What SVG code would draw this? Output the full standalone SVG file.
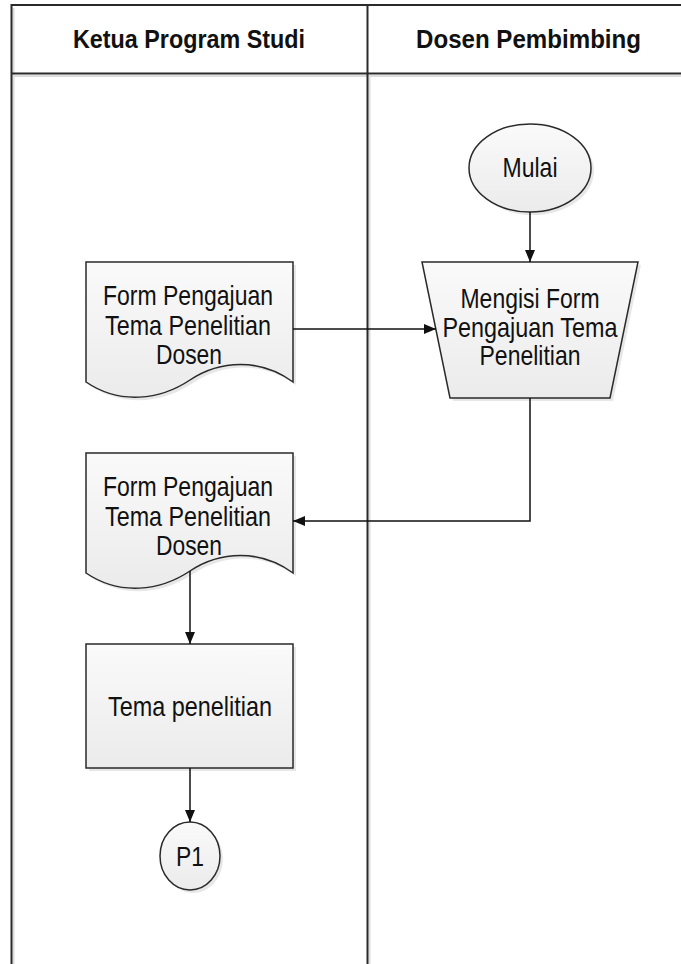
<svg xmlns="http://www.w3.org/2000/svg" width="681" height="964" viewBox="0 0 681 964">
<defs>
<style>
.t{font-family:"Liberation Sans Narrow","Liberation Sans",Arial,sans-serif;font-size:28px;fill:#111;text-anchor:middle}
.h{font-family:"Liberation Sans Narrow","Liberation Sans",Arial,sans-serif;font-size:26px;font-weight:bold;fill:#111;text-anchor:middle}
.n{fill:url(#g);stroke:#2a2a2a;stroke-width:1.5}
.sh{fill:#d4d4d4;opacity:0.55}
.c{fill:none;stroke:#111;stroke-width:1.5}
.fr{stroke:#2a2a2a;stroke-width:2;fill:none}
.frs{stroke:#dcdcdc;stroke-width:2;fill:none}
</style>
<linearGradient id="g" x1="0" y1="0" x2="0" y2="1">
<stop offset="0" stop-color="#fafafa"/>
<stop offset="1" stop-color="#ebebeb"/>
</linearGradient>
<marker id="a" viewBox="0 0 12 10" refX="12" refY="5" markerWidth="12" markerHeight="10" markerUnits="userSpaceOnUse" orient="auto">
<path d="M0,0 L12,5 L0,10 Z" fill="#111"/>
</marker>
</defs>
<rect width="681" height="964" fill="#fff"/>
<g id="frame">
<path class="frs" d="M13.5,8 V964 M369.5,76 V964 M14,76 H681"/>
<path class="fr" d="M11.5,964 V5 H681 M11.5,73.5 H681 M367.5,5 V964"/>
<text class="h" x="189" y="48" textLength="232" lengthAdjust="spacingAndGlyphs">Ketua Program Studi</text>
<text class="h" x="528.5" y="48" textLength="225" lengthAdjust="spacingAndGlyphs">Dosen Pembimbing</text>
</g>
<g id="mulai">
<ellipse class="sh" cx="533" cy="171" rx="61" ry="44"/>
<ellipse class="n" cx="530" cy="168" rx="61" ry="44"/>
<text class="t" x="530" y="177" textLength="55" lengthAdjust="spacingAndGlyphs">Mulai</text>
</g>
<g id="mengisi">
<path class="sh" d="M425,265 H641 L613,401 H453 Z"/>
<path class="n" d="M422,262 H638 L610,398 H450 Z"/>
<text class="t" x="530" y="308" textLength="139" lengthAdjust="spacingAndGlyphs">Mengisi Form</text>
<text class="t" x="530" y="337" textLength="175" lengthAdjust="spacingAndGlyphs">Pengajuan Tema</text>
<text class="t" x="530" y="365" textLength="101" lengthAdjust="spacingAndGlyphs">Penelitian</text>
</g>
<g id="form1">
<path class="sh" d="M89,265 H296 V385 C263,361 223,363 193,383 C163,403 123,408 89,385 Z"/>
<path class="n" d="M86,262 H293 V382 C260,358 220,360 190,380 C160,400 120,405 86,382 Z"/>
<text class="t" x="188" y="305" textLength="170" lengthAdjust="spacingAndGlyphs">Form Pengajuan</text>
<text class="t" x="188" y="335" textLength="166" lengthAdjust="spacingAndGlyphs">Tema Penelitian</text>
<text class="t" x="189" y="364" textLength="66" lengthAdjust="spacingAndGlyphs">Dosen</text>
</g>
<g id="form2">
<path class="sh" d="M89,456 H296 V576 C263,552 223,554 193,574 C163,594 123,599 89,576 Z"/>
<path class="n" d="M86,453 H293 V573 C260,549 220,551 190,571 C160,591 120,596 86,573 Z"/>
<text class="t" x="188" y="496" textLength="170" lengthAdjust="spacingAndGlyphs">Form Pengajuan</text>
<text class="t" x="188" y="526" textLength="166" lengthAdjust="spacingAndGlyphs">Tema Penelitian</text>
<text class="t" x="189" y="555" textLength="66" lengthAdjust="spacingAndGlyphs">Dosen</text>
</g>
<g id="tema">
<rect class="sh" x="89" y="647" width="207" height="124"/>
<rect class="n" x="86" y="644" width="207" height="124"/>
<text class="t" x="190" y="716" textLength="164" lengthAdjust="spacingAndGlyphs">Tema penelitian</text>
</g>
<g id="p1">
<ellipse class="sh" cx="193" cy="859" rx="30" ry="34"/>
<ellipse class="n" cx="190" cy="856" rx="30" ry="34"/>
<text class="t" x="190" y="866" textLength="28" lengthAdjust="spacingAndGlyphs">P1</text>
</g>
<g id="connectors">
<path class="c" d="M530,212 V262" marker-end="url(#a)"/>
<path class="c" d="M293,329 H436" marker-end="url(#a)"/>
<path class="c" d="M530,398 V521 H293" marker-end="url(#a)"/>
<path class="c" d="M190,571 V644" marker-end="url(#a)"/>
<path class="c" d="M190,768 V822" marker-end="url(#a)"/>
</g>
</svg>
